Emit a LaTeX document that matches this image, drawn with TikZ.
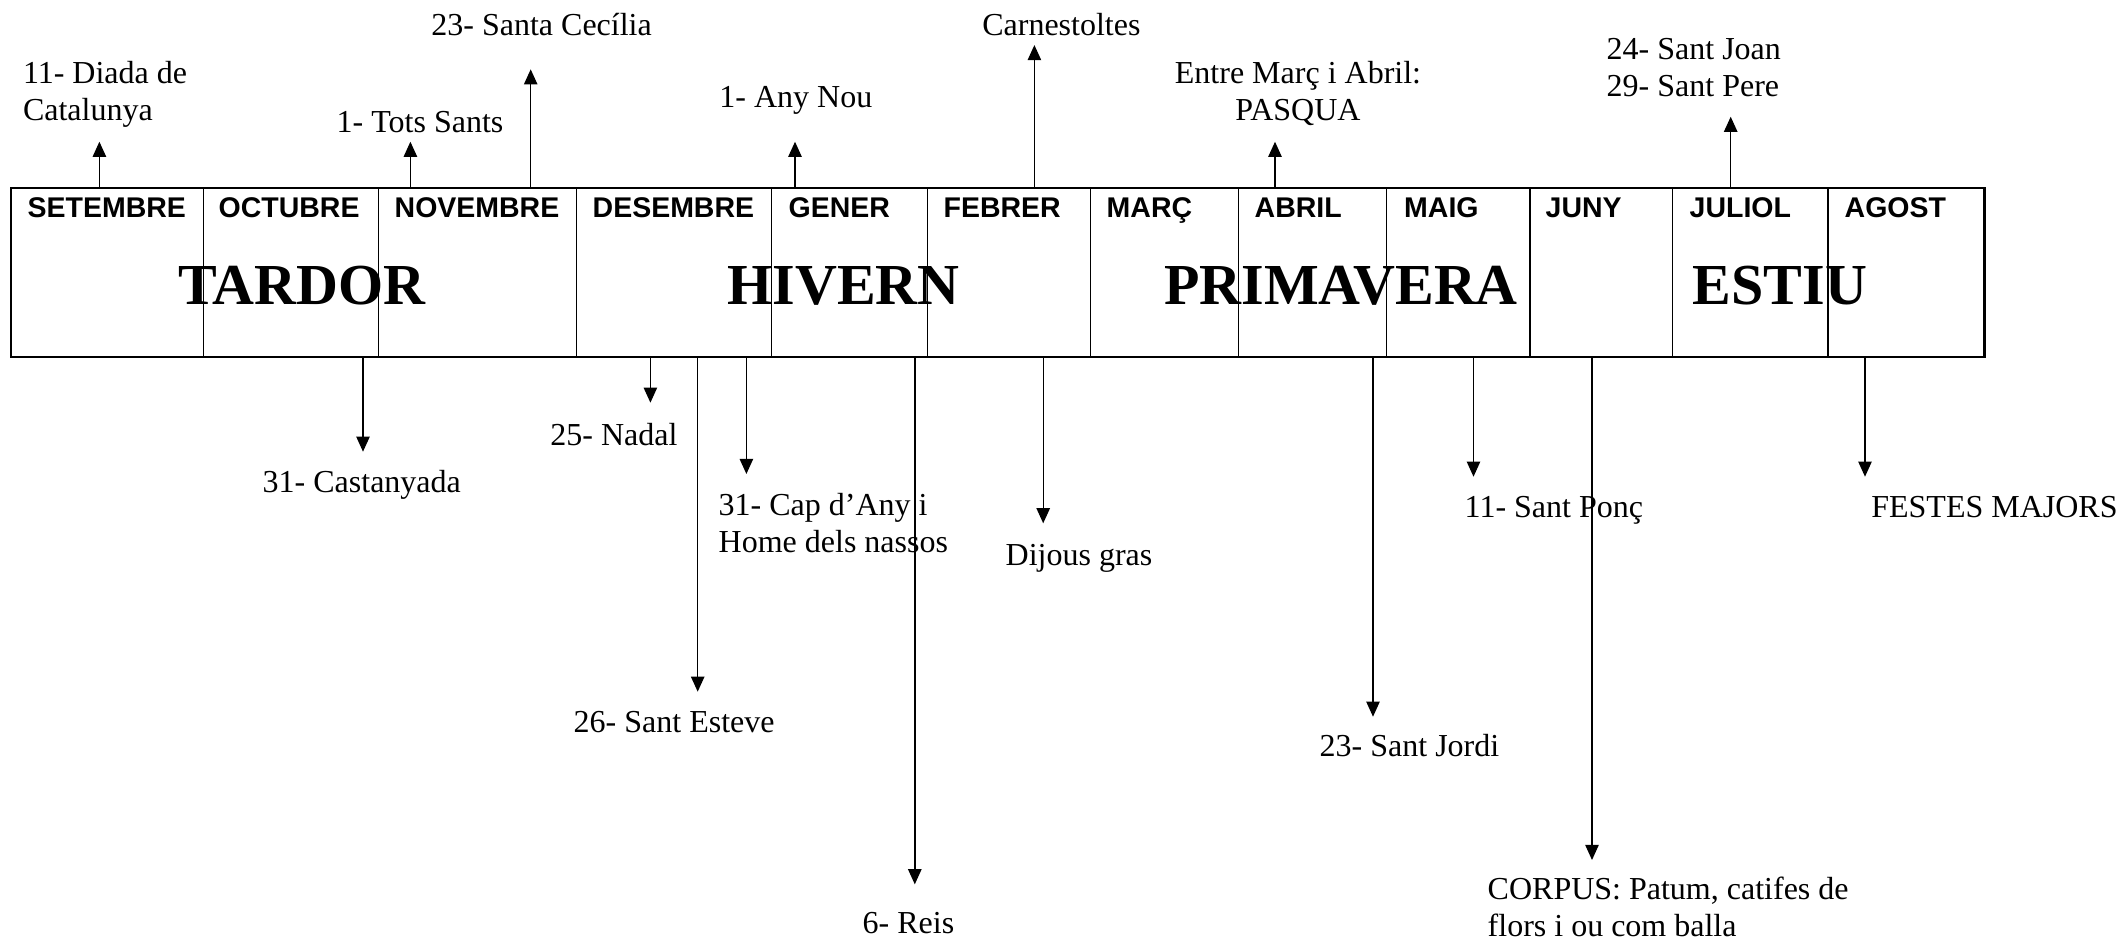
\documentclass[tikz,border=0pt]{standalone}
\usepackage{fontspec}
\setmainfont{Liberation Serif}
\setsansfont{Liberation Sans}
\usetikzlibrary{arrows.meta}

\begin{document}
\begin{tikzpicture}[x=0.01cm, y=-0.01cm,
    lbl/.style={inner sep=0pt, anchor=base west, font=\fontsize{9.1pt}{10.5pt}\selectfont},
    month/.style={inner sep=0pt, anchor=north west, font=\sffamily\bfseries\fontsize{8.1pt}{9pt}\selectfont},
    season/.style={inner sep=0pt, anchor=base, font=\bfseries\fontsize{16.5pt}{18pt}\selectfont},
    arr/.style={-{Triangle[length=4.3pt,width=3.8pt]}, line width=0.4pt}]
  \useasboundingbox (0,0) rectangle (2120,941);

  % the year
  \node[draw, line width=0.8pt, minimum width=19.721cm, minimum height=1.69cm,
    inner sep=0pt, outer sep=0pt] (cal) at (997.55,272.5) {};
  \draw[line width=0.4pt] (203.5,188) -- (203.5,357) (378.6,188) -- (378.6,357)
    (576.7,188) -- (576.7,357) (771.4,188) -- (771.4,357) (927.6,188) -- (927.6,357)
    (1090.4,188) -- (1090.4,357) (1238.5,188) -- (1238.5,357) (1386.5,188) -- (1386.5,357)
    (1529.9,188) -- (1529.9,357) (1672.6,188) -- (1672.6,357) (1828,188) -- (1828,357);

  \node[month] (set) at (27,197) {SETEMBRE};
  \node[month] (oct) at (218,197) {OCTUBRE};
  \node[month] (nov) at (394,197) {NOVEMBRE};
  \node[month] (des) at (592,197) {DESEMBRE};
  \node[month] (gen) at (788,197) {GENER};
  \node[month] (feb) at (943,197) {FEBRER};
  \node[month] (mar) at (1106,197) {MARÇ};
  \node[month] (abr) at (1254,197) {ABRIL};
  \node[month] (mai) at (1403.5,197) {MAIG};
  \node[month] (jun) at (1545,197) {JUNY};
  \node[month] (jul) at (1689,197) {JULIOL};
  \node[month] (ago) at (1844,197) {AGOST};

  \node[season] (tardor) at (302,304) {TARDOR};
  \node[season] (hivern) at (843.5,304) {HIVERN};
  \node[season] (primavera) at (1341,304) {PRIMAVERA};
  \node[season] (estiu) at (1780,304) {ESTIU};

  % above
  \node[lbl, align=left] (diada) at (22.3,120) {11- Diada de\\Catalunya};
  \node[lbl] (tots) at (336,132) {1- Tots Sants};
  \node[lbl] (cecilia) at (430.7,35) {23- Santa Cecília};
  \node[lbl] (anynou) at (718.7,107) {1- Any Nou};
  \node[lbl] (carnes) at (981.6,35) {Carnestoltes};
  \node[lbl, align=center, anchor=base] (pasqua) at (1298,120) {Entre Març i Abril:\\PASQUA};
  \node[lbl, align=left] (joan) at (1606,96.7) {24- Sant Joan\\29- Sant Pere};

  \coordinate (u1) at (99.4,141.7);
  \coordinate (u2) at (410.4,141.7);
  \coordinate (u3) at (530.7,69.3);
  \coordinate (u4) at (795,141.7);
  \coordinate (u5) at (1034.4,45);
  \coordinate (u6) at (1275,141.7);
  \coordinate (u7) at (1730.7,116.7);
  \draw[arr] (u1 |- cal.north) -- (u1);
  \draw[arr] (u2 |- cal.north) -- (u2);
  \draw[arr] (u3 |- cal.north) -- (u3);
  \draw[arr] (u4 |- cal.north) -- (u4);
  \draw[arr] (u5 |- cal.north) -- (u5);
  \draw[arr] (u6 |- cal.north) -- (u6);
  \draw[arr] (u7 |- cal.north) -- (u7);

  % below
  \node[lbl] (castanyada) at (262,492.7) {31- Castanyada};
  \node[lbl] (nadal) at (549.7,445) {25- Nadal};
  \node[lbl] (esteve) at (573,732) {26- Sant Esteve};
  \node[lbl, align=left] (capdany) at (718,552.7) {31- Cap d’Any i\\Home dels nassos};
  \node[lbl] (reis) at (862,933) {6- Reis};
  \node[lbl] (dijous) at (1005,565) {Dijous gras};
  \node[lbl] (jordi) at (1319,756.7) {23- Sant Jordi};
  \node[lbl] (ponc) at (1464,517) {11- Sant Ponç};
  \node[lbl, align=left] (corpus) at (1487,936.7) {CORPUS: Patum, catifes de\\flors i ou com balla};
  \node[lbl] (festes) at (1870.6,517) {FESTES MAJORS};

  \coordinate (d1) at (363,451.7);
  \coordinate (d2) at (650.4,402.7);
  \coordinate (d3) at (697.7,691.7);
  \coordinate (d4) at (746.4,474);
  \coordinate (d5) at (914.8,884.3);
  \coordinate (d6) at (1043.2,523.3);
  \coordinate (d7) at (1373,716.7);
  \coordinate (d8) at (1473.5,476.7);
  \coordinate (d9) at (1592,860);
  \coordinate (d10) at (1865,476.7);
  \draw[arr] (d1 |- cal.south) -- (d1);
  \draw[arr] (d2 |- cal.south) -- (d2);
  \draw[arr] (d3 |- cal.south) -- (d3);
  \draw[arr] (d4 |- cal.south) -- (d4);
  \draw[arr] (d5 |- cal.south) -- (d5);
  \draw[arr] (d6 |- cal.south) -- (d6);
  \draw[arr] (d7 |- cal.south) -- (d7);
  \draw[arr] (d8 |- cal.south) -- (d8);
  \draw[arr] (d9 |- cal.south) -- (d9);
  \draw[arr] (d10 |- cal.south) -- (d10);
\end{tikzpicture}
\end{document}
